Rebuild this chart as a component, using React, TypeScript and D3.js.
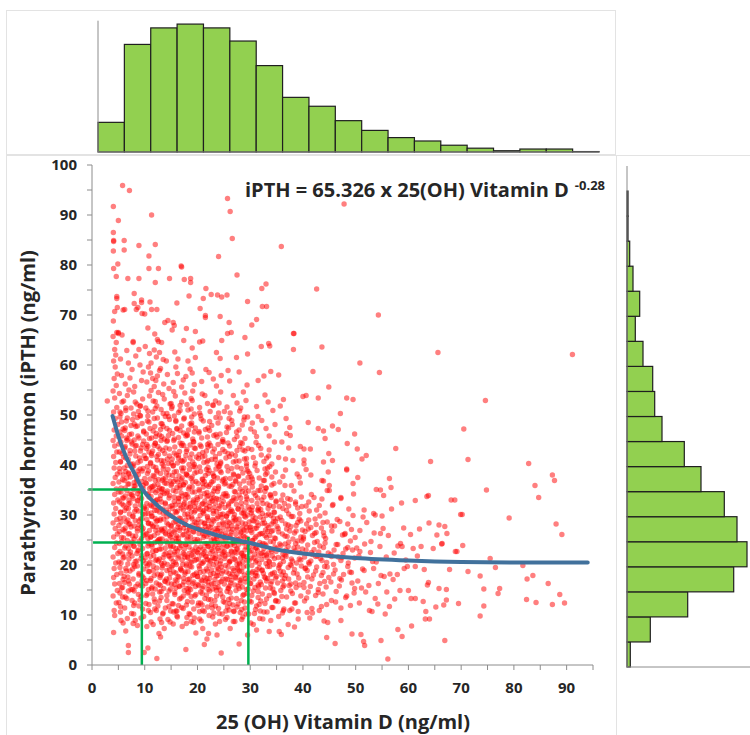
import React from "react";
import * as d3 from "d3";

// 25(OH) vitamin D histogram (top), 5 ng/ml bins from 0 to 95
const vitDCounts = [70, 254, 293, 302, 293, 262, 204, 129, 108, 74, 51, 34, 26, 16, 9, 3, 7, 7, 1];
// iPTH histogram (right), 5 ng/ml bins from 0 to 100
const pthCounts = [3.3, 23.3, 60.7, 106.7, 120, 110, 97.3, 74, 57.3, 35, 27.7, 25.7, 16, 8.3, 12.7, 6, 2.7, 1, 1, 0];
const binWidth = 5;

const xTickLabels = [0, 10, 20, 30, 40, 50, 60, 70, 80, 90];
const yTickLabels = [0, 10, 20, 30, 40, 50, 60, 70, 80, 90, 100];
const xMinorTicks = [5, 15, 25, 35, 45, 55, 65, 75, 85, 95];
const yMinorTicks = [5, 15, 25, 35, 45, 55, 65, 75, 85, 95];

// power trend line as drawn
const trendX = [3.9, 5, 6, 7, 8, 9.5, 12, 15, 18, 20, 22, 25, 30, 35, 40, 45, 50, 60, 70, 80, 94];
const trendY = [49.8, 45.8, 42.8, 40.4, 38.4, 35.3, 32.3, 29.8, 28.0, 27.2, 26.5, 25.6, 24.4, 23.1, 22.3, 21.8, 21.4, 20.9, 20.6, 20.5, 20.5];

// green guide lines x1,y1,x2,y2
const guides = [
  [-0.7, 35.1, 9.8, 35.1],
  [9.45, 35.1, 9.45, 0],
  [0.2, 24.5, 30, 24.5],
  [29.65, 25.6, 29.65, 0],
];

// scatter points, x (vit D) , y (iPTH) pairs, per vitamin D strip
const ptsA = [4.1,6.5, 4.3,9.9, 4.2,10.9, 4.6,12.4, 4.0,13.8, 4.8,14.9, 4.3,16.2, 4.1,17.5, 4.7,18.1, 4.2,19.3, 4.5,20.4, 4.0,21.6, 4.9,22.3, 4.3,23.5, 4.6,24.4, 4.1,25.6, 4.8,26.2, 4.4,27.3, 4.0,28.4, 4.7,29.1, 4.2,30.2, 4.5,31.3, 4.1,32.4, 4.9,33.0, 4.3,34.1, 4.6,35.2, 4.0,36.3, 4.4,37.5, 4.8,38.2, 4.2,39.4, 4.5,40.5, 4.1,41.7, 4.7,42.6, 4.3,43.8, 4.0,44.9, 4.6,45.8, 4.2,47.0, 4.9,48.1, 4.4,49.3, 4.1,50.6, 4.7,51.5, 2.9,52.8, 4.3,53.4, 4.0,54.8, 4.6,55.9, 4.2,57.3, 4.8,58.2, 4.4,59.6, 4.1,60.8, 4.5,62.0, 4.3,63.1, 4.6,64.5, 4.0,65.7, 4.7,66.5, 4.05,68.8, 4.3,70.7, 4.8,71.5, 4.7,73.7, 4.7,73.3, 4.6,77.7, 4.1,79.3, 4.9,80.2, 4.05,82.8, 4.1,84.7, 4.1,84.9, 4.05,86.5, 4.05,91.7];
const ptsB = [5.8,95.9, 7.1,94.9, 5.0,88.9, 6.1,84.9, 6.1,83.0, 8.9,83.9, 6.8,77.3, 8.9,77.3, 8.0,74.3, 8.0,72.3, 9.4,73.0, 9.4,72.5, 8.7,71.5, 8.4,71.1, 9.5,70.3, 6.2,71.1, 5.9,71.0, 5.0,66.5, 5.0,66.3, 5.7,66.0, 6.6,62.9, 7.8,64.7, 7.8,64.5, 8.9,63.1,
  5.4,61.2, 6.9,60.4, 7.6,59.1, 8.3,61.8, 9.1,60.0, 9.7,58.6, 5.6,57.9, 6.3,56.2, 8.1,55.7, 9.4,56.9, 7.2,57.4,
  5.2,54.3, 6.0,52.8, 6.7,53.9, 7.4,51.4, 8.2,52.6, 8.8,50.7, 9.6,53.2, 5.5,50.3, 7.9,54.6, 9.2,51.8, 6.4,50.9, 7.0,55.0,
  5.3,49.6, 5.9,47.2, 6.5,48.8, 7.1,46.1, 7.7,49.1, 8.3,47.7, 8.9,45.4, 9.5,48.3, 5.6,45.8, 6.8,45.2, 7.4,47.9, 8.6,49.5, 9.8,46.6, 6.2,46.9, 9.1,49.9,
  5.1,44.2, 5.7,42.3, 6.3,43.7, 6.9,41.1, 7.5,44.6, 8.1,42.8, 8.7,40.5, 9.3,43.4, 9.9,41.9, 5.4,40.7, 6.0,41.6, 6.6,44.9, 7.2,42.9, 7.8,40.2, 8.4,43.9, 9.0,41.4, 9.6,44.1, 8.0,45.0,
  5.2,39.3, 5.8,37.1, 6.4,38.7, 7.0,36.2, 7.6,39.6, 8.2,35.8, 8.8,38.1, 9.4,36.7, 5.5,35.4, 6.1,36.9, 6.7,39.9, 7.3,37.6, 7.9,35.1, 8.5,37.3, 9.1,39.2, 9.7,35.9, 6.9,38.4, 8.0,36.5, 5.9,38.0, 9.5,38.8,
  5.1,34.6, 5.7,32.2, 6.3,33.8, 6.9,31.3, 7.5,34.1, 8.1,30.7, 8.7,32.9, 9.3,34.7, 9.9,31.6, 5.4,30.5, 6.0,31.9, 6.6,34.9, 7.2,32.4, 7.8,33.3, 8.4,31.1, 9.0,33.6, 9.6,30.2, 6.2,30.9, 7.0,33.0, 8.6,34.3, 5.8,33.4, 9.2,32.0,
  5.3,29.4, 5.9,27.1, 6.5,28.6, 7.1,26.3, 7.7,29.7, 8.3,25.8, 8.9,28.0, 9.5,26.9, 5.6,25.5, 6.2,26.8, 6.8,29.0, 7.4,27.6, 8.0,25.2, 8.6,27.3, 9.2,29.2, 9.8,25.9, 7.0,28.2, 8.2,28.9, 5.1,27.9, 9.4,27.7,
  5.2,24.3, 5.8,22.2, 6.4,23.8, 7.0,21.2, 7.6,24.6, 8.2,20.7, 8.8,23.0, 9.4,21.9, 5.5,20.4, 6.1,21.6, 6.7,24.9, 7.3,22.6, 7.9,20.1, 8.5,22.3, 9.1,24.1, 9.7,20.9, 6.9,23.3, 8.0,23.7,
  5.3,19.5, 5.9,17.1, 6.5,18.8, 7.1,16.2, 7.7,19.2, 8.3,15.7, 8.9,18.0, 9.5,16.9, 5.6,15.4, 6.8,17.6, 7.4,15.1, 8.6,19.8, 9.8,17.4, 6.2,16.5, 9.2,15.9,
  5.8,13.6, 6.3,13.6, 7.5,10.3, 8.1,12.4, 8.8,14.1, 9.6,11.2, 5.4,11.7, 6.9,14.8, 9.1,13.0, 7.9,11.9,
  7.8,8.3, 8.6,7.9, 5.5,8.9, 6.4,6.8, 9.3,9.4, 6.9,3.9, 6.9,2.5, 9.9,2.5];
const ptsC = [12.3,1.3, 10.6,3.4, 12.7,6.3, 13.0,5.6, 13.7,7.3, 11.2,8.6, 14.4,9.1, 10.4,7.7,
  10.8,12.1, 11.5,14.2, 12.2,10.9, 13.1,13.5, 13.9,11.4, 14.6,14.8, 10.3,13.9, 11.9,12.6, 12.8,14.6, 13.4,10.2, 14.2,12.9, 11.1,10.5, 12.5,11.8, 14.9,10.8,
  10.2,16.3, 10.9,18.7, 11.4,15.6, 11.8,17.9, 12.3,19.4, 12.7,16.1, 13.2,18.2, 13.6,15.3, 14.1,17.2, 14.7,19.1, 10.5,19.8, 11.1,16.9, 12.0,15.2, 12.9,17.5, 13.4,19.9, 14.4,16.4, 14.9,18.3, 10.7,15.1, 11.6,18.9, 13.8,16.8,
  10.1,21.4, 10.6,23.8, 11.0,20.6, 11.5,22.7, 11.9,24.5, 12.3,21.1, 12.8,23.2, 13.2,20.3, 13.7,22.1, 14.1,24.8, 14.6,21.7, 14.9,23.6, 10.4,22.2, 11.3,24.1, 12.1,22.9, 12.6,20.8, 13.0,24.3, 13.5,21.5, 14.3,20.1, 14.8,22.5, 10.8,20.2, 11.7,21.9, 12.4,24.7, 13.9,23.4,
  10.2,26.1, 10.7,28.4, 11.1,25.5, 11.6,27.8, 12.0,29.3, 12.5,26.4, 12.9,28.9, 13.3,25.2, 13.8,27.3, 14.2,29.6, 14.7,26.7, 10.4,29.1, 10.9,26.9, 11.4,29.8, 11.8,25.9, 12.3,27.6, 12.7,25.1, 13.1,27.0, 13.6,29.2, 14.0,26.2, 14.5,28.1, 14.9,25.6, 10.6,25.3, 11.2,28.2, 12.2,28.7, 13.4,26.8,
  10.3,31.2, 10.8,33.6, 11.2,30.4, 11.7,32.7, 12.1,34.5, 12.6,31.5, 13.0,33.9, 13.5,30.3, 13.9,32.2, 14.3,34.8, 14.8,31.7, 10.5,34.1, 11.0,32.0, 11.5,34.9, 11.9,30.9, 12.4,33.1, 12.8,30.6, 13.2,32.6, 13.7,34.3, 14.1,31.0, 14.6,33.4, 10.1,30.2, 11.3,31.8, 12.2,32.3, 13.3,34.6, 14.5,30.5,
  10.2,36.4, 10.7,38.8, 11.2,35.6, 11.6,37.9, 12.1,39.5, 12.5,36.1, 13.0,38.3, 13.4,35.2, 13.9,37.4, 14.4,39.1, 14.8,36.8, 10.5,39.7, 11.0,37.2, 11.8,35.9, 12.3,38.6, 12.8,35.4, 13.6,39.8, 14.1,36.3, 14.6,38.0, 10.9,35.3, 12.6,37.1, 13.3,36.9,
  10.1,41.3, 10.6,43.7, 11.1,40.5, 11.5,42.8, 12.0,44.4, 12.4,41.0, 12.9,43.2, 13.3,40.2, 13.8,42.3, 14.2,44.7, 14.7,41.8, 10.4,44.1, 11.3,41.9, 11.8,43.9, 12.6,42.1, 13.1,44.9, 13.6,40.8, 14.0,43.4, 14.5,40.3, 10.8,42.6,
  10.3,46.2, 10.8,48.6, 11.3,45.4, 11.9,47.7, 12.4,49.4, 12.8,46.0, 13.3,48.2, 13.7,45.2, 14.2,47.3, 14.7,49.1, 10.6,49.8, 11.6,46.8, 12.1,45.7, 13.0,47.1, 13.9,49.7, 14.5,45.9,
  10.2,51.4, 10.9,53.8, 11.5,50.6, 12.0,52.7, 12.6,54.5, 13.1,51.1, 13.7,53.2, 14.2,50.3, 14.8,52.2, 11.2,54.9, 12.3,51.8, 13.4,54.1,
  10.4,56.6, 11.1,58.4, 11.8,55.7, 12.4,57.8, 13.0,59.3, 13.6,56.2, 14.3,58.1, 10.7,59.6, 12.1,56.9, 14.6,55.3, 11.5,57.3, 12.8,58.9,
  10.9,62.3, 11.8,63.0, 12.8,62.5, 13.5,61.1, 10.1,63.7, 11.2,60.4, 12.2,61.6, 14.1,60.8, 13.2,64.5, 12.6,64.7, 12.4,65.1,
  11.9,66.2, 13.8,68.5, 14.4,68.9, 10.0,70.2, 10.6,67.4, 11.0,72.6, 11.3,71.1, 12.3,71.1,
  10.8,79.3, 12.6,79.3, 12.0,76.5, 14.7,77.3, 10.8,81.8, 12.0,84.1, 11.3,90.0];
const ptsD = [17.8,3.1, 15.4,8.2, 17.1,7.7, 18.8,8.7, 19.3,8.5, 16.2,9.6, 19.7,6.4,
  15.2,12.3, 15.7,14.5, 16.1,10.8, 16.6,13.2, 17.0,11.5, 17.5,14.9, 17.9,12.0, 18.4,10.3, 18.8,13.7, 19.3,11.2, 19.7,14.1, 15.5,10.6, 16.4,11.9, 17.3,13.8, 18.1,14.4, 19.0,12.6,
  15.1,16.2, 15.5,18.6, 15.9,15.4, 16.3,17.7, 16.8,19.3, 17.2,16.0, 17.6,18.2, 18.0,15.3, 18.5,17.2, 18.9,19.6, 19.3,16.6, 19.8,18.4, 15.3,19.9, 15.8,17.0, 16.5,15.8, 17.0,18.9, 17.4,17.3, 17.9,19.8, 18.3,16.5, 18.7,15.1, 19.1,17.9, 19.6,15.7, 16.1,16.8, 18.2,18.7,
  15.0,21.3, 15.4,23.7, 15.8,20.5, 16.2,22.8, 16.7,24.4, 17.1,21.0, 17.5,23.2, 17.9,20.2, 18.4,22.3, 18.8,24.6, 19.2,21.7, 19.7,23.5, 15.2,24.9, 15.6,22.1, 16.0,20.1, 16.5,21.8, 16.9,23.9, 17.3,22.4, 17.8,24.1, 18.2,21.4, 18.6,20.6, 19.0,23.0, 19.5,20.9, 19.9,22.6, 15.9,23.3, 17.6,21.6, 18.9,22.0, 16.4,24.7,
  15.1,26.2, 15.5,28.5, 15.9,25.4, 16.3,27.6, 16.8,29.3, 17.2,26.0, 17.6,28.1, 18.0,25.2, 18.5,27.2, 18.9,29.6, 19.3,26.6, 19.8,28.4, 15.3,29.8, 15.7,27.0, 16.1,25.8, 16.6,26.9, 17.0,28.8, 17.4,27.4, 17.8,29.0, 18.3,26.4, 18.7,25.6, 19.1,28.0, 19.5,25.1, 19.9,27.3, 16.4,28.2, 17.9,26.8, 19.0,29.2, 15.0,27.7,
  15.2,31.3, 15.6,33.6, 16.0,30.5, 16.4,32.7, 16.9,34.4, 17.3,31.0, 17.7,33.2, 18.1,30.2, 18.6,32.3, 19.0,34.6, 19.4,31.7, 19.9,33.5, 15.4,34.9, 15.8,32.0, 16.2,30.8, 16.7,31.9, 17.1,33.8, 17.5,32.4, 18.0,34.1, 18.4,31.4, 18.8,30.6, 19.2,33.0, 19.6,30.9, 16.5,33.3, 17.9,31.6, 19.7,32.4,
  15.1,36.2, 15.6,38.6, 16.1,35.5, 16.5,37.8, 17.0,39.4, 17.4,36.0, 17.9,38.2, 18.3,35.2, 18.8,37.3, 19.2,39.7, 19.7,36.7, 15.4,39.8, 15.9,37.1, 16.7,35.9, 17.2,38.8, 17.7,36.5, 18.5,39.1, 19.0,35.6, 19.5,38.4, 16.3,36.6, 18.1,37.9, 16.9,37.0,
  15.2,41.2, 15.7,43.6, 16.2,40.4, 16.6,42.7, 17.1,44.3, 17.5,41.0, 18.0,43.1, 18.4,40.1, 18.9,42.2, 19.3,44.6, 19.8,41.6, 15.5,44.9, 16.0,42.0, 16.9,40.9, 17.4,43.9, 17.8,41.9, 18.6,44.0, 19.1,40.6, 19.6,43.3, 16.4,41.4,
  15.3,46.3, 15.9,48.7, 16.4,45.5, 17.0,47.8, 17.5,49.4, 18.0,46.1, 18.6,48.2, 19.1,45.2, 19.6,47.4, 15.6,49.8, 16.7,46.9, 17.8,45.8, 18.9,49.6, 19.4,46.6, 16.1,47.3, 18.3,47.0,
  15.1,51.3, 15.8,53.8, 16.4,50.5, 17.0,52.6, 17.6,54.4, 18.2,51.0, 18.8,53.3, 19.4,50.2, 15.5,54.7, 16.7,51.9, 18.0,52.1, 19.1,54.8,
  15.4,56.5, 16.2,58.3, 17.0,55.6, 17.8,57.7, 18.6,59.2, 19.4,56.1, 15.9,59.6, 17.3,57.0, 19.0,58.4,
  17.4,64.9, 19.0,63.4, 16.3,61.2, 18.2,60.8, 15.7,62.6, 19.6,61.5, 15.4,68.5, 15.2,67.0, 15.6,67.9, 19.6,66.7, 17.9,67.3,
  16.1,72.4, 18.4,73.8, 16.9,79.8, 17.0,79.6, 17.5,77.1, 18.7,77.3, 18.7,76.5];
const ptsE = [21.3,4.1, 24.5,2.4, 21.0,7.3, 22.1,6.3, 21.8,5.2, 23.7,6.0, 20.4,9.2, 24.2,8.7, 22.9,9.6,
  20.2,12.4, 20.6,14.6, 21.0,10.9, 21.4,13.3, 21.9,11.6, 22.3,14.8, 22.7,12.1, 23.1,10.4, 23.6,13.8, 24.0,11.3, 24.4,14.2, 24.9,12.7, 20.4,10.7, 20.9,12.0, 21.7,14.0, 22.5,13.1, 23.4,11.8, 24.7,10.2,
  20.1,16.1, 20.5,18.5, 20.9,15.3, 21.3,17.6, 21.7,19.2, 22.1,15.9, 22.5,18.1, 22.9,15.2, 23.3,17.1, 23.7,19.5, 24.1,16.5, 24.6,18.3, 20.3,19.8, 20.7,17.0, 21.1,15.7, 21.5,16.8, 21.9,18.8, 22.3,17.3, 22.7,19.0, 23.1,16.3, 23.5,15.5, 23.9,17.9, 24.3,15.0, 24.8,17.2, 20.0,17.7, 22.0,16.6, 23.8,18.6, 24.5,19.6,
  20.2,21.2, 20.6,23.6, 21.0,20.4, 21.4,22.7, 21.8,24.3, 22.2,20.9, 22.6,23.1, 23.0,20.1, 23.4,22.2, 23.8,24.5, 24.2,21.6, 24.7,23.4, 20.4,24.8, 20.8,22.0, 21.2,20.7, 21.6,21.7, 22.0,23.8, 22.4,22.3, 22.8,24.0, 23.2,21.3, 23.6,20.5, 24.0,22.9, 24.4,20.8, 24.9,22.5, 21.1,23.2, 22.9,21.5, 24.1,24.1, 20.1,22.4, 23.3,23.7, 21.9,21.1,
  20.3,26.3, 20.7,28.6, 21.1,25.5, 21.5,27.7, 21.9,29.4, 22.3,26.1, 22.7,28.2, 23.1,25.3, 23.5,27.3, 23.9,29.7, 24.3,26.7, 24.8,28.5, 20.5,29.9, 20.9,27.1, 21.3,25.9, 21.7,27.0, 22.1,28.9, 22.5,27.5, 22.9,29.1, 23.3,26.5, 23.7,25.7, 24.1,28.1, 24.5,25.2, 24.9,27.4, 20.1,27.8, 21.4,28.4, 22.6,25.0, 23.8,26.9, 24.6,29.5, 22.0,26.6,
  20.2,31.4, 20.6,33.7, 21.0,30.6, 21.4,32.8, 21.8,34.5, 22.2,31.1, 22.6,33.3, 23.0,30.3, 23.4,32.4, 23.8,34.7, 24.2,31.8, 24.7,33.6, 20.4,34.8, 20.8,32.1, 21.2,30.9, 21.6,32.0, 22.0,33.9, 22.4,32.5, 22.8,34.2, 23.2,31.5, 23.6,30.7, 24.0,33.1, 24.4,30.1, 24.9,32.7, 21.7,31.3, 23.1,33.4,
  20.1,36.3, 20.6,38.7, 21.1,35.6, 21.5,37.9, 22.0,39.5, 22.4,36.1, 22.9,38.3, 23.3,35.3, 23.8,37.4, 24.2,39.8, 24.7,36.8, 20.4,39.6, 20.9,37.2, 21.7,36.0, 22.2,38.9, 22.7,36.6, 23.5,39.2, 24.0,35.7, 24.5,38.5, 21.3,36.7, 23.1,37.8, 24.9,37.1,
  20.2,41.3, 20.7,43.7, 21.2,40.5, 21.7,42.8, 22.2,44.4, 22.7,41.1, 23.2,43.2, 23.7,40.2, 24.2,42.3, 24.7,44.7, 20.5,44.0, 21.4,41.8, 22.5,43.9, 23.4,41.7, 24.4,40.6, 21.0,42.5, 23.9,44.1, 22.0,40.9,
  20.3,46.4, 21.1,48.8, 21.9,45.6, 22.7,47.9, 23.5,49.5, 24.3,46.2, 20.7,49.2, 22.3,46.9, 23.9,48.4, 21.5,47.1, 24.8,45.1, 23.1,45.9,
  20.4,51.5, 21.4,53.9, 22.4,50.7, 23.4,52.8, 24.4,54.6, 20.9,54.2, 22.9,52.0, 24.0,50.4, 21.9,52.3,
  20.8,56.7, 22.2,58.5, 23.6,55.8, 24.5,57.9, 21.6,59.1, 23.0,57.2,
  20.4,64.6, 21.0,64.8, 24.6,64.9, 24.3,61.3, 23.6,62.5, 21.5,69.5, 21.5,69.9, 24.3,69.7,
  20.5,71.3, 21.1,73.3, 22.6,74.1, 23.8,74.0, 24.6,73.6, 21.6,75.3, 24.0,81.7];
const ptsF = [27.9,4.2, 26.2,7.3, 27.1,8.7, 29.5,6.0, 25.6,9.5, 28.4,9.1,
  25.2,12.5, 25.6,14.7, 26.0,11.0, 26.4,13.4, 26.9,10.7, 27.3,14.9, 27.7,12.2, 28.1,10.5, 28.6,13.9, 29.0,11.4, 29.4,14.3, 29.9,12.8, 25.4,10.8, 25.9,13.1, 26.7,12.0, 27.5,11.6, 28.3,12.9, 29.2,10.2,
  25.1,16.2, 25.5,18.6, 25.9,15.4, 26.3,17.7, 26.7,19.3, 27.1,16.0, 27.5,18.2, 27.9,15.3, 28.3,17.2, 28.7,19.6, 29.1,16.6, 29.6,18.4, 25.3,19.9, 25.7,17.1, 26.1,15.8, 26.5,16.9, 26.9,18.9, 27.3,17.4, 27.7,19.1, 28.1,16.4, 28.5,15.6, 28.9,18.0, 29.3,15.1, 29.8,17.3, 26.0,18.3, 28.0,18.8,
  25.2,21.3, 25.6,23.7, 26.0,20.5, 26.4,22.8, 26.8,24.4, 27.2,21.0, 27.6,23.2, 28.0,20.2, 28.4,22.3, 28.8,24.6, 29.2,21.7, 29.7,23.5, 25.4,24.9, 25.8,22.1, 26.2,20.8, 26.6,21.8, 27.0,23.9, 27.4,22.4, 27.8,24.1, 28.2,21.4, 28.6,20.6, 29.0,23.0, 29.4,20.9, 29.9,22.6, 25.1,22.7, 26.3,24.0, 27.5,20.1, 28.7,21.9, 29.6,24.3, 27.1,22.6,
  25.3,26.4, 25.7,28.7, 26.1,25.6, 26.5,27.8, 26.9,29.5, 27.3,26.2, 27.7,28.3, 28.1,25.4, 28.5,27.4, 28.9,29.8, 29.3,26.8, 29.8,28.6, 25.5,29.7, 25.9,27.2, 26.3,26.0, 26.7,27.1, 27.1,29.0, 27.5,27.6, 27.9,29.2, 28.3,26.6, 28.7,25.8, 29.1,28.2, 29.5,25.3, 29.9,27.5, 26.0,28.4, 27.7,25.1, 28.8,27.0, 25.1,25.5,
  25.2,31.5, 25.7,33.8, 26.2,30.7, 26.7,32.9, 27.2,34.6, 27.7,31.2, 28.2,33.4, 28.7,30.4, 29.2,32.5, 29.7,34.8, 25.4,34.3, 25.9,32.2, 26.4,31.0, 26.9,33.5, 27.4,32.1, 27.9,34.0, 28.4,31.6, 28.9,30.8, 29.4,33.2, 29.9,31.1, 25.8,30.3, 27.0,30.1, 28.5,34.7, 29.5,30.0,
  25.3,36.4, 25.8,38.8, 26.4,35.7, 26.9,38.0, 27.5,39.6, 28.0,36.2, 28.6,38.4, 29.1,35.4, 29.6,37.5, 25.6,39.7, 26.2,37.3, 27.2,36.9, 28.3,39.3, 28.8,36.8, 29.4,39.0, 26.7,36.1, 27.8,37.7, 29.9,38.3,
  25.4,41.4, 26.1,43.8, 26.8,40.6, 27.5,42.9, 28.2,44.5, 28.9,41.2, 29.6,43.3, 25.8,44.4, 27.2,41.9, 28.6,43.0, 29.3,40.3, 26.5,42.2, 27.9,40.8, 25.2,42.7,
  25.5,46.5, 26.5,48.9, 27.5,45.7, 28.5,48.0, 29.5,49.6, 26.0,49.3, 27.9,47.0, 29.0,45.3, 25.9,47.4, 28.8,49.0,
  25.6,51.6, 26.8,53.9, 28.0,50.8, 29.2,52.9, 26.2,50.4, 27.5,52.4, 28.7,54.6, 26.1,56.8, 27.9,58.6, 29.4,56.0, 25.8,58.9,
  29.0,65.5, 29.5,62.2, 27.4,61.5, 26.0,68.5, 26.4,66.5, 25.7,66.3, 25.6,74.0, 29.5,72.7, 27.5,78.0, 26.2,90.7, 25.7,93.3, 26.6,85.3];
const ptsG = [30.6,8.1, 31.2,7.0, 33.6,6.7, 32.4,9.2,
  30.2,12.6, 30.6,14.8, 31.0,11.1, 31.5,13.5, 31.9,10.8, 32.3,14.2, 32.8,12.3, 33.2,10.6, 33.6,13.9, 34.1,11.5, 34.5,14.5, 34.9,12.9, 30.8,10.3, 32.0,12.8,
  30.1,16.3, 30.5,18.7, 30.9,15.5, 31.3,17.8, 31.7,19.4, 32.1,16.1, 32.5,18.3, 32.9,15.4, 33.3,17.3, 33.7,19.7, 34.1,16.7, 34.6,18.5, 30.3,19.9, 30.7,17.2, 31.5,16.0, 32.3,19.0, 33.1,16.8, 33.9,18.1, 34.3,15.2, 34.8,17.4, 31.1,18.4, 32.7,17.6,
  30.2,21.4, 30.6,23.8, 31.0,20.6, 31.4,22.9, 31.8,24.5, 32.2,21.1, 32.6,23.3, 33.0,20.3, 33.4,22.4, 33.8,24.7, 34.2,21.8, 34.7,23.6, 30.4,24.9, 30.8,22.2, 31.2,20.9, 31.6,21.9, 32.0,24.0, 32.4,22.5, 32.8,24.2, 33.2,21.5, 33.6,20.7, 34.0,23.1, 34.4,20.1, 34.9,22.7, 31.1,23.4, 33.1,22.0,
  30.3,26.5, 30.7,28.8, 31.1,25.7, 31.5,27.9, 31.9,29.6, 32.3,26.3, 32.7,28.4, 33.1,25.5, 33.5,27.5, 33.9,29.9, 34.3,26.9, 34.8,28.7, 30.5,29.8, 30.9,27.3, 31.7,26.1, 32.5,29.1, 33.3,26.7, 34.1,28.2, 34.6,25.4, 31.3,28.5, 32.9,27.0, 34.4,29.4, 30.1,27.6, 33.7,25.9,
  30.4,31.6, 31.0,33.9, 31.6,30.8, 32.2,33.0, 32.8,34.7, 33.4,31.3, 34.0,33.5, 34.6,30.5, 30.7,34.4, 31.3,32.3, 32.0,31.1, 32.6,33.6, 33.2,32.2, 33.8,34.1, 34.4,31.7, 30.2,30.4, 31.9,34.9, 33.5,30.2, 34.9,32.8, 31.4,31.0,
  30.5,36.5, 31.3,38.9, 32.1,35.8, 32.9,38.1, 33.7,39.7, 34.5,36.3, 30.9,39.8, 31.7,37.4, 32.5,36.9, 33.3,39.4, 34.1,36.0, 34.8,38.6, 30.2,37.6, 33.0,35.4,
  30.6,41.5, 31.6,43.9, 32.6,40.7, 33.6,43.0, 34.6,44.6, 31.1,44.5, 32.1,42.0, 33.1,41.4, 34.1,40.2, 30.3,43.1,
  30.8,46.6, 32.2,48.9, 33.6,45.8, 34.7,48.1, 31.5,49.7, 33.0,47.3, 30.4,48.4,
  31.2,51.7, 32.8,54.0, 34.3,50.9, 33.4,52.6, 31.5,56.9, 33.9,58.7, 32.6,57.8,
  32.1,63.7, 33.7,63.8, 33.5,64.3, 30.3,68.0, 31.2,69.1, 32.3,71.7, 33.1,71.7, 32.2,75.3, 33.0,76.2];
const ptsH = [35.9,6.1, 35.5,6.7, 38.4,7.6,
  35.3,12.7, 35.8,14.9, 36.4,11.2, 36.9,13.6, 37.5,10.9, 38.0,14.3, 38.6,12.4, 39.1,10.7, 39.6,13.8, 36.1,10.4,
  35.2,16.4, 35.7,18.8, 36.2,15.6, 36.7,17.9, 37.2,19.5, 37.7,16.2, 38.2,18.4, 38.7,15.5, 39.2,17.4, 39.7,19.8, 35.5,19.9, 36.5,17.3, 37.4,15.9, 38.4,19.1, 39.4,16.0, 36.0,18.0,
  35.3,21.5, 35.8,23.9, 36.3,20.7, 36.8,23.0, 37.3,24.6, 37.8,21.2, 38.3,23.4, 38.8,20.4, 39.3,22.5, 39.8,24.8, 35.6,24.2, 36.6,22.0, 37.6,20.1, 38.6,24.3, 39.6,21.0, 36.1,21.4, 37.1,22.6, 39.0,23.6,
  35.4,26.6, 36.0,28.9, 36.6,25.8, 37.2,28.0, 37.8,29.7, 38.4,26.4, 39.0,28.5, 39.6,25.6, 35.7,29.6, 36.9,27.2, 38.1,25.2, 39.3,29.2, 35.1,27.7, 37.5,26.8, 38.7,27.9, 39.9,27.0,
  35.5,31.7, 36.2,34.0, 36.9,30.9, 37.6,33.1, 38.3,34.8, 39.0,31.4, 39.7,33.6, 35.9,33.0, 37.3,31.8, 38.6,32.6, 36.5,32.3, 39.4,30.3,
  35.6,36.6, 36.7,39.0, 37.8,35.9, 38.9,38.2, 36.2,37.7, 39.5,36.4, 39.3,37.6,
  35.4,41.5, 36.7,41.2, 38.1,40.9, 37.3,43.4, 39.5,43.7, 36.0,44.6,
  36.8,49.3, 37.5,47.5, 36.9,46.3, 37.6,45.9, 36.3,53.1, 35.7,51.8, 35.4,58.0,
  38.3,66.3, 38.2,63.1, 38.2,66.3, 35.9,83.7];
const ptsI = [44.0,8.8, 44.7,8.5, 44.5,5.5, 41.3,9.4,
  40.3,12.8, 41.0,14.6, 41.7,11.3, 42.4,13.9, 43.1,10.9, 43.8,14.2, 44.5,12.1, 40.8,10.5,
  40.2,16.5, 40.8,18.9, 41.4,15.7, 42.0,18.0, 42.6,19.6, 43.2,16.3, 43.8,18.5, 44.4,15.6, 44.9,17.5, 40.5,19.4, 41.7,17.2, 42.9,15.1, 44.1,19.7, 43.5,17.9,
  40.3,21.6, 40.9,24.0, 41.5,20.8, 42.1,23.1, 42.7,24.7, 43.3,21.3, 43.9,23.5, 44.5,20.5, 40.6,23.0, 41.8,22.1, 43.0,22.6, 44.2,24.4, 41.2,20.2, 42.4,21.7, 44.8,22.4, 43.6,20.9,
  40.4,26.7, 41.1,29.0, 41.8,25.9, 42.5,28.1, 43.2,29.8, 43.9,26.5, 44.6,28.6, 40.7,28.2, 42.2,26.3, 43.5,27.4, 44.3,25.3, 41.5,27.5, 40.1,25.6,
  40.6,31.8, 41.6,34.1, 42.6,31.0, 43.6,33.2, 44.6,34.9, 41.1,32.6, 43.1,31.9, 44.2,30.4, 42.1,33.5,
  40.6,39.1, 43.9,36.8, 43.6,36.9, 41.5,38.0, 44.8,38.6,
  40.2,41.0, 40.2,40.2, 43.9,40.6, 44.9,42.3, 40.2,43.2, 41.4,43.2,
  42.9,47.3, 43.9,46.8, 44.2,45.3, 41.0,48.5,
  40.6,53.9, 40.0,53.7, 42.9,53.4, 41.9,58.7, 44.9,55.6, 43.6,63.6, 42.6,75.2];
const ptsJ = [49.3,6.2, 47.2,8.9, 46.1,4.3,
  45.4,12.9, 46.3,14.7, 47.2,11.4, 48.1,13.5, 49.0,11.9, 49.7,14.4,
  45.3,16.6, 46.1,19.0, 46.9,15.8, 47.7,18.1, 48.5,19.7, 49.3,16.4, 45.8,18.2, 47.3,17.0, 48.9,18.6, 49.8,15.3,
  45.4,21.7, 46.3,24.1, 47.2,20.9, 48.1,23.2, 49.0,24.8, 49.8,21.4, 45.9,23.0, 47.6,22.3, 48.6,20.4, 46.7,21.6, 49.4,23.0,
  45.5,26.8, 46.5,29.1, 47.5,26.0, 48.5,28.2, 49.5,29.9, 46.0,27.8, 48.0,26.3, 49.2,27.1, 47.0,28.7,
  45.6,31.9, 47.2,33.5, 47.2,33.3, 45.7,32.1, 48.7,31.2, 49.6,34.2,
  48.3,39.0, 48.3,39.2, 49.5,36.3, 45.0,35.9, 45.0,34.9,
  45.6,47.8, 46.7,47.1, 48.4,44.3, 49.8,46.2, 45.6,40.9,
  47.1,50.3, 48.3,53.4, 49.5,53.1, 47.8,92.2];
const ptsK = [51.0,6.1, 51.7,3.9, 51.5,4.7, 54.8,4.9,
  53.1,10.7, 52.6,10.9, 53.7,13.3, 50.7,12.4, 51.9,14.6, 54.2,12.2,
  54.8,17.9, 50.4,16.8, 51.6,18.9, 52.5,15.9, 53.4,19.3, 51.1,15.4, 54.3,16.3,
  50.6,21.8, 51.7,24.2, 52.8,22.5, 53.9,20.6, 54.6,23.7, 50.2,23.4,
  50.8,26.9, 52.1,28.5, 53.5,26.4, 54.7,26.3, 51.4,29.6,
  51.6,31.0, 53.4,30.3, 53.7,30.0, 54.7,35.0, 53.9,35.1,
  50.4,37.5, 51.2,41.2, 52.0,41.9, 50.3,43.2, 50.8,60.4, 54.5,58.5, 54.3,70.0];
const ptsL = [55.0,29.8, 55.2,27.3, 55.6,10.2, 56.4,11.7, 56.1,1.2, 58.0,7.1, 58.8,5.7, 55.4,17.7, 57.1,17.1, 57.9,18.1, 56.5,18.2, 58.0,23.8, 58.8,23.7, 58.5,24.3, 59.1,27.4, 58.7,32.4, 57.6,43.3, 56.4,37.3, 56.7,35.5, 55.8,21.6, 57.3,22.4, 56.2,25.9, 59.5,21.0, 55.9,14.6, 57.4,13.2, 58.4,14.9, 59.2,19.3, 56.8,31.2, 55.3,33.9];
const ptsM = [60.9,23.3, 62.4,23.7, 64.7,23.3, 61.3,32.9, 63.5,33.7, 63.8,33.9, 64.2,40.7, 61.3,19.7, 59.8,19.7, 63.0,19.1, 60.0,14.9, 60.5,13.3, 61.3,13.3, 63.8,16.5, 63.6,16.0, 63.3,10.7, 63.2,9.2, 64.0,9.2, 60.6,7.8, 62.1,27.2, 60.4,26.1, 63.9,28.4, 61.7,21.8, 62.8,12.7];
const ptsN = [65.6,62.5, 66.3,24.2, 66.4,24.3, 69.2,22.7, 68.9,22.7, 68.1,33.0, 68.8,33.0, 65.8,28.0, 66.9,27.7, 65.4,26.0, 67.3,26.3, 67.8,19.1, 65.8,15.3, 67.2,15.1, 67.2,13.0, 65.2,11.6, 66.7,12.0, 69.5,12.3, 66.9,4.9];
const ptsO = [70.5,47.2, 71.3,41.1, 70.3,23.9, 69.9,30.1, 70.2,30.1, 71.3,18.7, 74.6,52.9, 74.8,35.0, 73.6,17.8, 74.3,15.2, 74.3,11.8, 73.6,9.8];
const ptsP = [75.5,21.3, 76.5,19.5, 77.3,15.3, 77.0,14.3, 79.1,29.4, 81.7,19.9, 82.5,17.2, 83.6,17.9, 82.4,13.1, 84.2,12.5, 86.5,16.3, 87.3,12.1, 88.7,14.1, 89.6,12.4, 82.8,40.3, 84.0,35.9, 87.3,38.0, 87.7,36.9, 84.7,33.5, 88.0,28.2, 89.1,26.1, 91.1,62.1];
// further points in the dense core (x 5-55, y 8-53), read row by row
const ptsCore = [5.9,8.4, 8.2,8.9, 11.6,8.1, 14.8,8.6, 17.9,8.3, 20.7,8.8, 23.4,8.2, 26.8,8.7, 30.1,8.4, 33.9,8.9, 37.2,8.1, 13.2,8.5,
  6.7,9.3, 9.8,9.7, 12.9,9.2, 16.1,9.8, 19.4,9.4, 22.2,9.9, 25.3,9.1, 28.6,9.6, 31.8,9.3, 35.4,9.7, 39.1,9.2, 18.0,9.5,
  5.4,10.6, 7.9,10.2, 10.7,10.9, 13.5,10.4, 15.9,10.8, 18.6,10.1, 21.3,10.7, 24.1,10.3, 26.9,10.8, 29.7,10.2, 32.6,10.6, 36.3,10.9, 41.8,10.4,
  6.2,11.4, 8.9,11.8, 11.9,11.2, 14.6,11.7, 17.3,11.3, 20.1,11.9, 22.8,11.4, 25.7,11.6, 28.4,11.1, 31.2,11.8, 34.3,11.5, 37.9,11.2, 43.5,11.7,
  5.1,12.5, 7.6,12.9, 10.2,12.3, 12.8,12.8, 15.4,12.2, 18.1,12.7, 20.6,12.4, 23.3,12.9, 26.1,12.3, 28.9,12.6, 31.7,12.1, 34.8,12.8, 38.4,12.4, 46.2,12.6,
  6.6,13.3, 9.3,13.7, 11.8,13.2, 14.2,13.9, 16.9,13.4, 19.5,13.8, 22.1,13.1, 24.8,13.6, 27.4,13.3, 30.3,13.9, 33.1,13.2, 36.0,13.7, 40.7,13.4, 48.3,13.8,
  5.3,14.4, 8.0,14.8, 10.5,14.2, 13.1,14.7, 15.7,14.1, 18.3,14.6, 20.9,14.3, 23.6,14.9, 26.2,14.5, 28.8,14.1, 31.5,14.7, 34.6,14.3, 37.7,14.8, 42.9,14.5,
  5.8,15.5, 7.7,15.1, 9.6,15.8, 11.3,15.3, 13.0,15.9, 14.9,15.2, 16.6,15.7, 18.4,15.4, 20.2,15.9, 22.0,15.1, 23.9,15.6, 25.8,15.3, 27.7,15.8, 29.6,15.2, 31.6,15.7, 33.8,15.4, 36.4,15.9, 40.2,15.5,
  5.2,16.3, 6.9,16.8, 8.7,16.2, 10.4,16.9, 12.2,16.4, 13.9,16.7, 15.6,16.1, 17.4,16.6, 19.1,16.3, 20.9,16.8, 22.7,16.2, 24.5,16.7, 26.3,16.4, 28.1,16.9, 30.0,16.3, 31.9,16.6, 33.9,16.2, 36.1,16.8, 38.6,16.4, 44.1,16.7,
  6.1,17.7, 7.8,17.2, 9.5,17.8, 11.2,17.3, 13.0,17.9, 14.7,17.4, 16.5,17.6, 18.2,17.1, 20.0,17.7, 21.8,17.3, 23.6,17.8, 25.4,17.2, 27.2,17.6, 29.1,17.3, 31.0,17.9, 32.9,17.4, 35.0,17.7, 37.3,17.2, 40.9,17.6, 47.0,17.3,
  5.5,18.4, 7.2,18.8, 8.9,18.3, 10.7,18.7, 12.4,18.2, 14.2,18.9, 15.9,18.4, 17.7,18.6, 19.4,18.1, 21.2,18.7, 23.0,18.3, 24.8,18.8, 26.6,18.2, 28.4,18.7, 30.3,18.4, 32.2,18.9, 34.2,18.3, 36.3,18.6, 38.9,18.2, 42.4,18.8, 49.2,18.5,
  6.4,19.3, 8.1,19.7, 9.8,19.2, 11.6,19.8, 13.3,19.4, 15.1,19.6, 16.8,19.1, 18.6,19.7, 20.4,19.3, 22.2,19.9, 24.0,19.2, 25.8,19.6, 27.6,19.4, 29.4,19.8, 31.3,19.1, 33.3,19.7, 35.4,19.4, 37.8,19.9, 40.4,19.3, 44.6,19.6, 51.3,19.2,
  5.1,20.6, 6.8,20.2, 8.5,20.8, 10.2,20.3, 12.0,20.9, 13.7,20.4, 15.4,20.7, 17.2,20.1, 18.9,20.6, 20.7,20.3, 22.5,20.8, 24.3,20.2, 26.1,20.7, 27.9,20.4, 29.8,20.9, 31.7,20.3, 33.6,20.6, 35.7,20.2, 38.0,20.8, 41.1,20.5, 45.8,20.1, 53.2,20.7,
  5.9,21.4, 7.6,21.8, 9.3,21.3, 11.1,21.7, 12.8,21.2, 14.6,21.9, 16.3,21.4, 18.1,21.6, 19.8,21.1, 21.6,21.7, 23.4,21.3, 25.2,21.8, 27.0,21.2, 28.8,21.6, 30.7,21.4, 32.6,21.9, 34.6,21.3, 36.8,21.7, 39.3,21.2, 42.7,21.8, 47.4,21.5,
  5.3,22.7, 7.0,22.2, 8.7,22.8, 10.5,22.3, 12.2,22.9, 14.0,22.4, 15.7,22.6, 17.5,22.1, 19.3,22.7, 21.1,22.3, 22.9,22.8, 24.7,22.2, 26.5,22.6, 28.3,22.4, 30.2,22.9, 32.1,22.3, 34.1,22.7, 36.2,22.2, 38.5,22.8, 41.6,22.5, 45.3,22.1, 50.8,22.7,
  6.2,23.4, 7.9,23.8, 9.6,23.3, 11.4,23.7, 13.1,23.2, 14.9,23.9, 16.6,23.4, 18.4,23.6, 20.2,23.1, 22.0,23.7, 23.8,23.3, 25.6,23.8, 27.4,23.2, 29.2,23.6, 31.1,23.4, 33.0,23.9, 35.0,23.3, 37.2,23.7, 39.9,23.2, 43.2,23.8, 48.5,23.5,
  5.6,24.6, 7.3,24.2, 9.0,24.8, 10.8,24.3, 12.5,24.9, 14.3,24.4, 16.0,24.7, 17.8,24.1, 19.6,24.6, 21.4,24.3, 23.2,24.8, 25.0,24.2, 26.8,24.7, 28.6,24.4, 30.5,24.9, 32.4,24.3, 34.4,24.6, 36.6,24.2, 39.0,24.8, 42.2,24.5, 46.6,24.1, 52.9,24.7,
  6.0,25.4, 7.7,25.8, 9.4,25.3, 11.2,25.7, 12.9,25.2, 14.7,25.9, 16.4,25.4, 18.2,25.6, 20.0,25.1, 21.8,25.7, 23.6,25.3, 25.4,25.8, 27.2,25.2, 29.0,25.6, 30.9,25.4, 32.8,25.9, 34.8,25.3, 37.0,25.7, 40.1,25.2, 44.0,25.8, 49.9,25.5,
  5.2,26.7, 6.9,26.2, 8.6,26.8, 10.4,26.3, 12.1,26.9, 13.9,26.4, 15.6,26.6, 17.4,26.1, 19.2,26.7, 21.0,26.3, 22.8,26.8, 24.6,26.2, 26.4,26.6, 28.2,26.4, 30.1,26.9, 32.0,26.3, 34.0,26.7, 36.1,26.2, 38.7,26.8, 42.5,26.5, 47.9,26.1,
  6.3,27.4, 8.0,27.8, 9.7,27.3, 11.5,27.7, 13.2,27.2, 15.0,27.9, 16.7,27.4, 18.5,27.6, 20.3,27.1, 22.1,27.7, 23.9,27.3, 25.7,27.8, 27.5,27.2, 29.3,27.6, 31.2,27.4, 33.2,27.9, 35.3,27.3, 37.7,27.7, 41.0,27.2, 45.4,27.8,
  5.5,28.6, 7.2,28.2, 8.9,28.8, 10.7,28.3, 12.4,28.9, 14.2,28.4, 15.9,28.7, 17.7,28.1, 19.5,28.6, 21.3,28.3, 23.1,28.8, 24.9,28.2, 26.7,28.7, 28.5,28.4, 30.4,28.9, 32.3,28.3, 34.4,28.6, 36.7,28.2, 39.6,28.8, 43.8,28.5,
  6.1,29.4, 7.8,29.8, 9.5,29.3, 11.3,29.7, 13.0,29.2, 14.8,29.9, 16.5,29.4, 18.3,29.6, 20.1,29.1, 21.9,29.7, 23.7,29.3, 25.5,29.8, 27.3,29.2, 29.1,29.6, 31.0,29.4, 33.0,29.9, 35.2,29.3, 38.1,29.7, 42.3,29.2,
  5.4,30.6, 7.1,30.2, 8.8,30.8, 10.6,30.3, 12.3,30.9, 14.1,30.4, 15.8,30.7, 17.6,30.1, 19.4,30.6, 21.2,30.3, 23.0,30.8, 24.8,30.2, 26.6,30.7, 28.4,30.4, 30.3,30.9, 32.3,30.3, 34.5,30.6, 37.3,30.2, 41.2,30.8,
  6.5,31.4, 8.2,31.8, 9.9,31.3, 11.7,31.7, 13.4,31.2, 15.2,31.9, 16.9,31.4, 18.7,31.6, 20.5,31.1, 22.3,31.7, 24.1,31.3, 25.9,31.8, 27.7,31.2, 29.6,31.6, 31.6,31.4, 33.7,31.9, 36.2,31.3, 39.8,31.7,
  5.2,32.6, 6.9,32.2, 8.6,32.8, 10.4,32.3, 12.1,32.9, 13.9,32.4, 15.6,32.7, 17.4,32.1, 19.2,32.6, 21.0,32.3, 22.8,32.8, 24.6,32.2, 26.4,32.7, 28.3,32.4, 30.3,32.9, 32.4,32.3, 34.9,32.6, 38.6,32.2,
  6.0,33.4, 7.7,33.8, 9.4,33.3, 11.2,33.7, 12.9,33.2, 14.7,33.9, 16.4,33.4, 18.2,33.6, 20.0,33.1, 21.8,33.7, 23.6,33.3, 25.4,33.8, 27.3,33.2, 29.3,33.6, 31.4,33.4, 33.8,33.9, 37.1,33.3,
  5.5,34.6, 7.2,34.2, 8.9,34.8, 10.7,34.3, 12.4,34.9, 14.2,34.4, 15.9,34.7, 17.7,34.1, 19.5,34.6, 21.3,34.3, 23.1,34.8, 25.0,34.2, 27.0,34.7, 29.1,34.4, 31.5,34.9, 34.7,34.3,
  6.3,35.4, 8.0,35.8, 9.7,35.3, 11.5,35.7, 13.2,35.2, 15.0,35.9, 16.7,35.4, 18.5,35.6, 20.3,35.1, 22.1,35.7, 24.0,35.3, 26.0,35.8, 28.1,35.2, 30.4,35.6, 33.0,35.4, 36.6,35.9,
  5.1,36.6, 6.8,36.2, 8.5,36.8, 10.3,36.3, 12.0,36.9, 13.8,36.4, 15.5,36.7, 17.3,36.1, 19.1,36.6, 21.0,36.3, 23.0,36.8, 25.1,36.2, 27.3,36.7, 29.8,36.4, 32.7,36.9,
  6.6,37.4, 8.3,37.8, 10.0,37.3, 11.8,37.7, 13.5,37.2, 15.3,37.9, 17.1,37.4, 19.0,37.6, 21.0,37.1, 23.1,37.7, 25.3,37.3, 27.7,37.8, 30.4,37.2, 34.1,37.6,
  5.3,38.6, 7.0,38.2, 8.7,38.8, 10.5,38.3, 12.3,38.9, 14.1,38.4, 16.0,38.7, 17.9,38.1, 19.9,38.6, 22.0,38.3, 24.3,38.8, 26.8,38.2, 29.6,38.7, 33.2,38.4,
  6.1,39.4, 7.9,39.8, 9.7,39.3, 11.6,39.7, 13.5,39.2, 15.4,39.9, 17.4,39.4, 19.5,39.6, 21.7,39.1, 24.0,39.7, 26.5,39.3, 29.3,39.8, 32.8,39.2,
  5.4,40.6, 7.3,40.2, 9.2,40.8, 11.1,40.3, 13.1,40.9, 15.1,40.4, 17.2,40.7, 19.4,40.1, 21.8,40.6, 24.4,40.3, 27.3,40.8, 31.0,40.4,
  6.4,41.4, 8.3,41.8, 10.3,41.3, 12.3,41.7, 14.3,41.2, 16.4,41.9, 18.6,41.4, 20.9,41.6, 23.4,41.1, 26.1,41.7, 29.3,41.3, 33.5,41.8,
  5.2,42.6, 7.2,42.2, 9.2,42.8, 11.3,42.3, 13.4,42.9, 15.6,42.4, 17.9,42.7, 20.3,42.1, 22.9,42.6, 25.8,42.3, 29.0,42.8,
  6.2,43.4, 8.2,43.8, 10.3,43.3, 12.5,43.7, 14.7,43.2, 17.0,43.9, 19.4,43.4, 22.0,43.6, 24.8,43.1, 28.0,43.7, 32.0,43.3,
  5.5,44.6, 7.6,44.2, 9.8,44.8, 12.0,44.3, 14.3,44.9, 16.7,44.4, 19.2,44.7, 21.9,44.1, 24.9,44.6, 28.5,44.3,
  6.5,45.4, 8.7,45.8, 10.9,45.3, 13.2,45.7, 15.6,45.2, 18.1,45.9, 20.8,45.4, 23.7,45.6, 27.0,45.1, 31.2,45.7,
  5.3,46.6, 7.5,46.2, 9.8,46.8, 12.2,46.3, 14.7,46.9, 17.4,46.4, 20.3,46.7, 23.5,46.1, 27.4,46.6,
  6.3,47.4, 8.6,47.8, 11.0,47.3, 13.5,47.7, 16.1,47.2, 18.9,47.9, 22.0,47.4, 25.6,47.6, 30.1,47.2,
  5.6,48.6, 8.0,48.2, 10.5,48.8, 13.1,48.3, 15.9,48.9, 18.9,48.4, 22.3,48.7, 26.6,48.1,
  6.7,49.4, 9.2,49.8, 11.8,49.3, 14.5,49.7, 17.4,49.2, 20.6,49.9, 24.3,49.4, 28.9,49.6,
  5.3,50.6, 7.9,50.2, 10.6,50.8, 13.5,50.3, 16.7,50.9, 20.4,50.4, 25.1,50.7,
  6.4,51.4, 9.1,51.8, 12.0,51.3, 15.2,51.7, 18.8,51.2, 23.0,51.9, 28.2,51.4,
  5.7,52.6, 8.5,52.2, 11.6,52.8, 15.0,52.3, 19.0,52.9, 24.1,52.4];

function pairs(a: number[]): [number, number][] {
  const out: [number, number][] = [];
  for (let i = 0; i < a.length; i += 2) out.push([a[i], a[i + 1]]);
  return out;
}

const points = [ptsA, ptsB, ptsC, ptsD, ptsE, ptsF, ptsG, ptsH, ptsI, ptsJ, ptsK, ptsL, ptsM, ptsN, ptsO, ptsP, ptsCore].flatMap(pairs);

const font = "'Open Sans', 'Liberation Sans', sans-serif";
const axisColor = "#8c8c8c";
const frameColor = "#e3e3e3";
const barFill = "#92d050";

export default function App() {
  // main scatter
  const x = d3.scaleLinear().domain([0, 95]).range([92, 593]);
  const y = d3.scaleLinear().domain([0, 100]).range([665, 165]);

  // top histogram
  const xTop = d3.scaleLinear().domain([0, 95]).range([98, 599]);
  const yTop = d3.scaleLinear().domain([0, 310]).range([152, 20.7]);

  // right histogram
  const yRight = d3.scaleLinear().domain([0, 100]).range([667, 166]);
  const xRight = d3.scaleLinear().domain([0, 125]).range([627, 752]);

  const trend = d3
    .line<number>()
    .x((d, i) => x(trendX[i]))
    .y((d) => y(d))
    .curve(d3.curveMonotoneX);

  return (
    <svg width={750} height={735} style={{ position: "absolute", left: 0, top: 0, background: "#fff" }}>
      <rect x={0} y={0} width={750} height={735} fill="#fff" />

      {/* panel frames */}
      <rect x={6.5} y={10.5} width={609} height={144} fill="none" stroke={frameColor} />
      <line x1={6.5} y1={155} x2={6.5} y2={735} stroke={frameColor} />
      <line x1={6.5} y1={155.5} x2={750} y2={155.5} stroke={frameColor} />
      <line x1={616.5} y1={155} x2={616.5} y2={735} stroke={frameColor} />

      {/* top histogram */}
      <g>
        {vitDCounts.map((c, i) => (
          <rect
            key={i}
            x={xTop(i * binWidth)}
            y={yTop(c)}
            width={xTop((i + 1) * binWidth) - xTop(i * binWidth)}
            height={yTop(0) - yTop(c)}
            fill={barFill}
            stroke="#1f1f1f"
            strokeWidth={1.2}
          />
        ))}
        <line x1={xTop(0)} y1={yTop(0)} x2={xTop(0)} y2={yTop(310)} stroke={axisColor} />
        <line x1={xTop(0)} y1={yTop(0)} x2={xTop(95)} y2={yTop(0)} stroke={axisColor} />
      </g>

      {/* right histogram */}
      <g>
        {pthCounts.map((c, i) =>
          c > 0 ? (
            <rect
              key={i}
              x={xRight(0)}
              y={yRight((i + 1) * binWidth)}
              width={xRight(c) - xRight(0)}
              height={yRight(i * binWidth) - yRight((i + 1) * binWidth)}
              fill={barFill}
              stroke="#1f1f1f"
              strokeWidth={1.2}
            />
          ) : null
        )}
        <line x1={xRight(0)} y1={yRight(0)} x2={xRight(0)} y2={yRight(100)} stroke={axisColor} />
        <line x1={xRight(0)} y1={yRight(0)} x2={750} y2={yRight(0)} stroke={axisColor} />
      </g>

      {/* scatter */}
      <g>
        {points.map((p, i) => (
          <circle key={i} cx={x(p[0])} cy={y(p[1])} r={2.7} fill="#ff0000" fillOpacity={0.5} />
        ))}
      </g>

      {/* guide lines */}
      {guides.map((g, i) => (
        <line key={i} x1={x(g[0])} y1={y(g[1])} x2={x(g[2])} y2={y(g[3])} stroke="#00b050" strokeWidth={2.5} />
      ))}

      {/* trend line */}
      <path d={trend(trendY) || ""} fill="none" stroke="#41719c" strokeWidth={4} strokeLinecap="round" />

      {/* axes */}
      <g stroke={axisColor} strokeWidth={1}>
        <line x1={x(0)} y1={y(0)} x2={x(95)} y2={y(0)} />
        <line x1={x(0)} y1={y(0)} x2={x(0)} y2={y(100)} />
        {xTickLabels.concat(xMinorTicks).map((t) => (
          <line key={"xt" + t} x1={x(t)} x2={x(t)} y1={y(0)} y2={y(0) + 5} />
        ))}
        {yTickLabels.concat(yMinorTicks).map((t) => (
          <line key={"yt" + t} x1={x(0) - 5} x2={x(0)} y1={y(t)} y2={y(t)} />
        ))}
      </g>
      <g fontFamily={font} fontWeight="bold" fontSize={15} fill="#262626">
        {xTickLabels.map((t) => (
          <text key={"xl" + t} x={x(t)} y={693} textAnchor="middle">
            {t}
          </text>
        ))}
        {yTickLabels.map((t) => (
          <text key={"yl" + t} x={77} y={y(t)} dy="0.36em" textAnchor="end">
            {t}
          </text>
        ))}
      </g>

      {/* titles */}
      <text x={343} y={729} textAnchor="middle" fontFamily={font} fontWeight="bold" fontSize={20} fill="#262626">
        25 (OH) Vitamin D (ng/ml)
      </text>
      <text
        transform="translate(35,423) rotate(-90)"
        textAnchor="middle"
        fontFamily={font}
        fontWeight="bold"
        fontSize={20}
        fill="#262626"
      >
        Parathyroid hormon (iPTH) (ng/ml)
      </text>

      {/* equation */}
      <text x={245} y={196.5} fontFamily={font} fontWeight="bold" fontSize={20} fill="#262626">
        iPTH = 65.326 x 25(OH) Vitamin D
        <tspan dx={6} dy={-7} fontSize={13}>
          -0.28
        </tspan>
      </text>
    </svg>
  );
}
